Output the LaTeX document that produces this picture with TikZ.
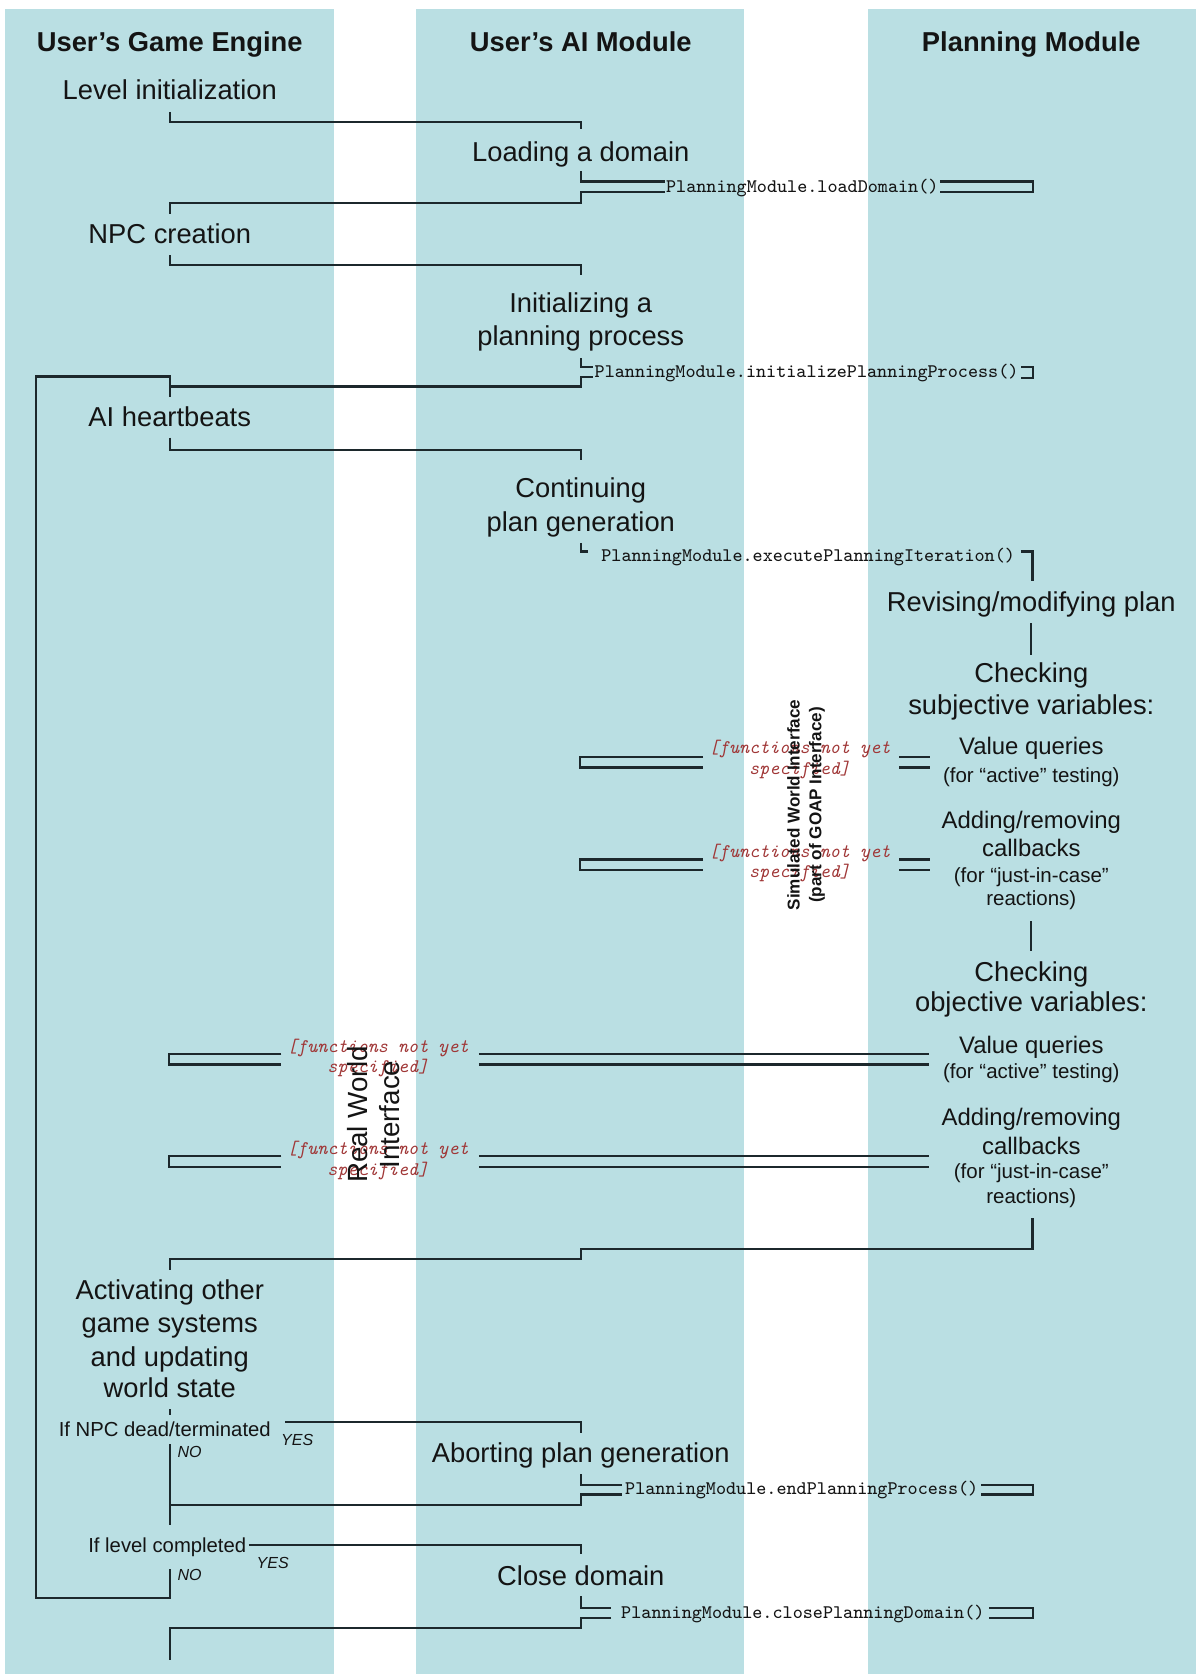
\documentclass[tikz,border=0pt]{standalone}
\usepackage{fontspec}
\setmainfont{Liberation Sans}
\usetikzlibrary{calc}
\definecolor{bg}{RGB}{186,223,227}
\definecolor{lc}{RGB}{28,40,44}
\definecolor{tc}{RGB}{20,20,20}
\definecolor{rc}{RGB}{160,55,55}
\tikzset{
 lbl/.style={inner sep=0pt, text=tc, font=\fontsize{12.8}{15}\selectfont, anchor=base},
 hdr/.style={lbl, font=\bfseries\fontsize{12.8}{15}\selectfont},
 sml/.style={lbl, font=\fontsize{11.2}{13}\selectfont},
 xsm/.style={lbl, font=\fontsize{9.6}{11}\selectfont},
 cnd/.style={lbl, font=\fontsize{9.5}{11}\selectfont, anchor=base east},
 yn/.style={lbl, font=\itshape\fontsize{7.5}{9}\selectfont, anchor=base west},
 code/.style={inner sep=0pt, text=tc, font=\ttfamily\fontsize{9}{10}\selectfont, text height=0.75em, text depth=0.25em},
 redtxt/.style={inner sep=0pt, text=rc, font=\ttfamily\itshape\fontsize{9}{9.5}\selectfont, align=center},
 ln/.style={draw=lc, line width=1.1pt},
 colbg/.style={fill=bg},
}
\begin{document}
\begin{tikzpicture}[x=0.5pt, y=-0.5pt]
\useasboundingbox (0,0) rectangle (1121,1568);
% columns
\fill[colbg] (5,8) rectangle (313,1568);
\fill[colbg] (390,8) rectangle (697,1568);
\fill[colbg] (813,8) rectangle (1120,1568);

% headers
\node[hdr] (h1) at (159,48) {User’s Game Engine};
\node[hdr] (h2) at (544,48) {User’s AI Module};
\node[hdr] (h3) at (966,48) {Planning Module};

% labels
\node[lbl] (lvl) at (159,93.2) {Level initialization};
\node[lbl] (load) at (544,151.2) {Loading a domain};
\node[code] (ldc) at (751.5,175) {PlanningModule.loadDomain()};
\node[lbl] (npc) at (159,227.7) {NPC creation};
\node[lbl] (init1) at (544,293) {Initializing a};
\node[lbl] (init2) at (544,324) {planning process};
\node[code] (ipc) at (755.5,348.5) {PlanningModule.initializePlanningProcess()};
\node[lbl] (hb) at (159,399.2) {AI heartbeats};
\node[lbl] (cont1) at (544,466.2) {Continuing};
\node[lbl] (cont2) at (544,497.5) {plan generation};
\node[code] (epc) at (757,521) {PlanningModule.executePlanningIteration()};
\node[lbl] (rev) at (966,572.7) {Revising/modifying plan};
\node[lbl] (chs1) at (966,639.7) {Checking};
\node[lbl] (chs2) at (966,669.5) {subjective variables:};
\node[sml] (vq1a) at (966,707) {Value queries};
\node[xsm] (vq1b) at (966,732.9) {(for “active” testing)};
\node[redtxt] (r1) at (749,711.5) {[functions not yet\\specified]};
\node[sml] (ar1a) at (966,776) {Adding/removing};
\node[sml] (ar1b) at (966,802.5) {callbacks};
\node[xsm] (ar1c) at (966,826.4) {(for “just-in-case”};
\node[xsm] (ar1d) at (966,848) {reactions)};
\node[redtxt] (r2) at (749,808.5) {[functions not yet\\specified]};
\node[lbl] (cho1) at (966,919.2) {Checking};
\node[lbl] (cho2) at (966,947.5) {objective variables:};
\node[sml] (vq2a) at (966,986.6) {Value queries};
\node[xsm] (vq2b) at (966,1010.5) {(for “active” testing)};
\node[redtxt] (r3) at (354,991) {[functions not yet\\specified]};
\node[sml] (ar2a) at (966,1053.8) {Adding/removing};
\node[sml] (ar2b) at (966,1081.8) {callbacks};
\node[xsm] (ar2c) at (966,1104) {(for “just-in-case”};
\node[xsm] (ar2d) at (966,1127.5) {reactions)};
\node[redtxt] (r4) at (354,1087) {[functions not yet\\specified]};
\node[lbl] (act1) at (159,1217.2) {Activating other};
\node[lbl] (act2) at (159,1248.2) {game systems};
\node[lbl] (act3) at (159,1279.7) {and updating};
\node[lbl] (act4) at (159,1309.2) {world state};
\node[cnd] (npcd) at (254,1345.3) {If NPC dead/terminated};
\node[yn] (yes1) at (263,1354) {YES};
\node[yn] (no1) at (166,1365) {NO};
\node[lbl] (abort) at (544,1370.2) {Aborting plan generation};
\node[code] (endc) at (751,1395) {PlanningModule.endPlanningProcess()};
\node[cnd] (lvlc) at (231,1454.5) {If level completed};
\node[yn] (yes2) at (240,1469.4) {YES};
\node[yn] (no2) at (166,1480.4) {NO};
\node[lbl] (close) at (544,1485.2) {Close domain};
\node[code] (clc) at (752,1511) {PlanningModule.closePlanningDomain()};

% rotated interface labels
\node[lbl, anchor=center, rotate=90, align=center, font=\bfseries\fontsize{8}{10.25}\selectfont] (sim) at (755,754) {Simulated World Interface\\(part of GOAP Interface)};
\node[lbl, anchor=center, rotate=90, align=center, font=\fontsize{13}{15.25}\selectfont] (rw) at (350,1044) {Real World\\Interface};

% connectors
\draw[ln] ($(lvl.base)+(0,11.5)$) |- ($(load.base)+(0,-37)$) -- ($(load.base)+(0,-30.5)$);
\draw[ln] ($(load.base)+(0,9)$) |- ($(ldc.west)+(-1,-5)$);
\draw[ln] ($(ldc.east)+(1,-5)$) -| ($(ldc.east)+(88,5)$) -- ($(ldc.east)+(1,5)$);
\draw[ln] ($(ldc.west)+(-1,5)$) -| ($(load.base)+(0,38.8)$) -| ($(npc.base)+(0,-27.7)$);
\draw[ln] ($(npc.base)+(0,11.5)$) |- ($(init1.base)+(0,-45)$) -- ($(init1.base)+(0,-35.5)$);
\draw[ln] ($(init2.base)+(0,11.6)$) |- ($(ipc.west)+(-1,-4.5)$);
\draw[ln] ($(ipc.east)+(2,-5)$) -| ($(ipc.east)+(13,5.5)$) -- ($(ipc.east)+(2,5.5)$);
\draw[ln] ($(ipc.west)+(-1,4.5)$) -| ($(init2.base)+(0,38)$) -- ($(hb.base)+(0,-37.2)$);
% main loop
\draw[ln] ($(hb.base)+(0,-27.7)$) -- ($(hb.base)+(0,-46.5)$) -| ($(lvlc.base east)+(-197,42.1)$) -| ($(lvlc.base east)+(-72,15.5)$);
\draw[ln] ($(hb.base)+(0,10.8)$) |- ($(cont1.base)+(0,-44.7)$) -- ($(cont1.base)+(0,-35.2)$);
\draw[ln] ($(cont2.base)+(0,11)$) |- ($(epc.west)+(-12,-4.5)$);
\draw[ln] ($(epc.east)+(5,-4.5)$) -| ($(rev.base)+(1,-28.2)$);
\draw[ln] ($(rev.base)+(0,11)$) -- ($(chs1.base)+(0,-26)$);
% subjective variable queries
\draw[ln] ($(r1.west)+(-5,-2.5)$) -| ($(r1.west)+(-120,7.5)$) -- ($(r1.west)+(-5,7.5)$);
\draw[ln] ($(r1.east)+(8,-2.5)$) -- ($(r1.east)+(37,-2.5)$);
\draw[ln] ($(r1.east)+(8,7.5)$) -- ($(r1.east)+(37,7.5)$);
\draw[ln] ($(r2.west)+(-5,-3.5)$) -| ($(r2.west)+(-120,6.5)$) -- ($(r2.west)+(-5,6.5)$);
\draw[ln] ($(r2.east)+(8,-3.5)$) -- ($(r2.east)+(37,-3.5)$);
\draw[ln] ($(r2.east)+(8,6.5)$) -- ($(r2.east)+(37,6.5)$);
\draw[ln] ($(ar1d.base)+(0,15)$) -- ($(cho1.base)+(0,-28.2)$);
% objective variable queries
\draw[ln] ($(r3.west)+(-5,-4)$) -| ($(r3.west)+(-110,6)$) -- ($(r3.west)+(-5,6)$);
\draw[ln] ($(r3.east)+(9,-4)$) -- ($(r3.east)+(431,-4)$);
\draw[ln] ($(r3.east)+(9,6)$) -- ($(r3.east)+(431,6)$);
\draw[ln] ($(r4.west)+(-5,-4)$) -| ($(r4.west)+(-110,6)$) -- ($(r4.west)+(-5,6)$);
\draw[ln] ($(r4.east)+(9,-4)$) -- ($(r4.east)+(431,-4)$);
\draw[ln] ($(r4.east)+(9,6)$) -- ($(r4.east)+(431,6)$);
% back to the game engine
\draw[ln] ($(ar2d.base)+(1,13.5)$) |- ($(act1.base)+(385,-47.2)$) -- ($(act1.base)+(385,-37.9)$) -| ($(act1.base)+(0,-27.6)$);
\draw[ln] ($(act4.base)+(0,10.8)$) -- ($(act4.base)+(0,15.8)$);
\draw[ln] ($(npcd.base east)+(13,-13.3)$) -| ($(abort.base)+(0,-28.2)$);
\draw[ln] ($(npcd.base east)+(-95,7.7)$) -- ($(npcd.base east)+(-95,82.7)$);
\draw[ln] ($(abort.base)+(0,10.8)$) |- ($(endc.west)+(-3,-4.3)$);
\draw[ln] ($(endc.east)+(2.5,-4.3)$) -| ($(endc.east)+(50.5,5)$) -- ($(endc.east)+(2.5,5)$);
\draw[ln] ($(endc.west)+(-3,5)$) -| ($(abort.base)+(0,39.3)$) -- ($(npcd.base east)+(-95,64.2)$);
\draw[ln] ($(lvlc.base east)+(2,-7.5)$) -| ($(close.base)+(0,-29.2)$);
\draw[ln] ($(close.base)+(0,9.8)$) |- ($(clc.west)+(-9,-5)$);
\draw[ln] ($(clc.east)+(4,-5)$) -| ($(clc.east)+(45,4.6)$) -- ($(clc.east)+(4,4.6)$);
\draw[ln] ($(clc.west)+(-9,4.6)$) -| ($(close.base)+(0,39.8)$) -| ($(close.base)+(-385,69.4)$);
\end{tikzpicture}
\end{document}
